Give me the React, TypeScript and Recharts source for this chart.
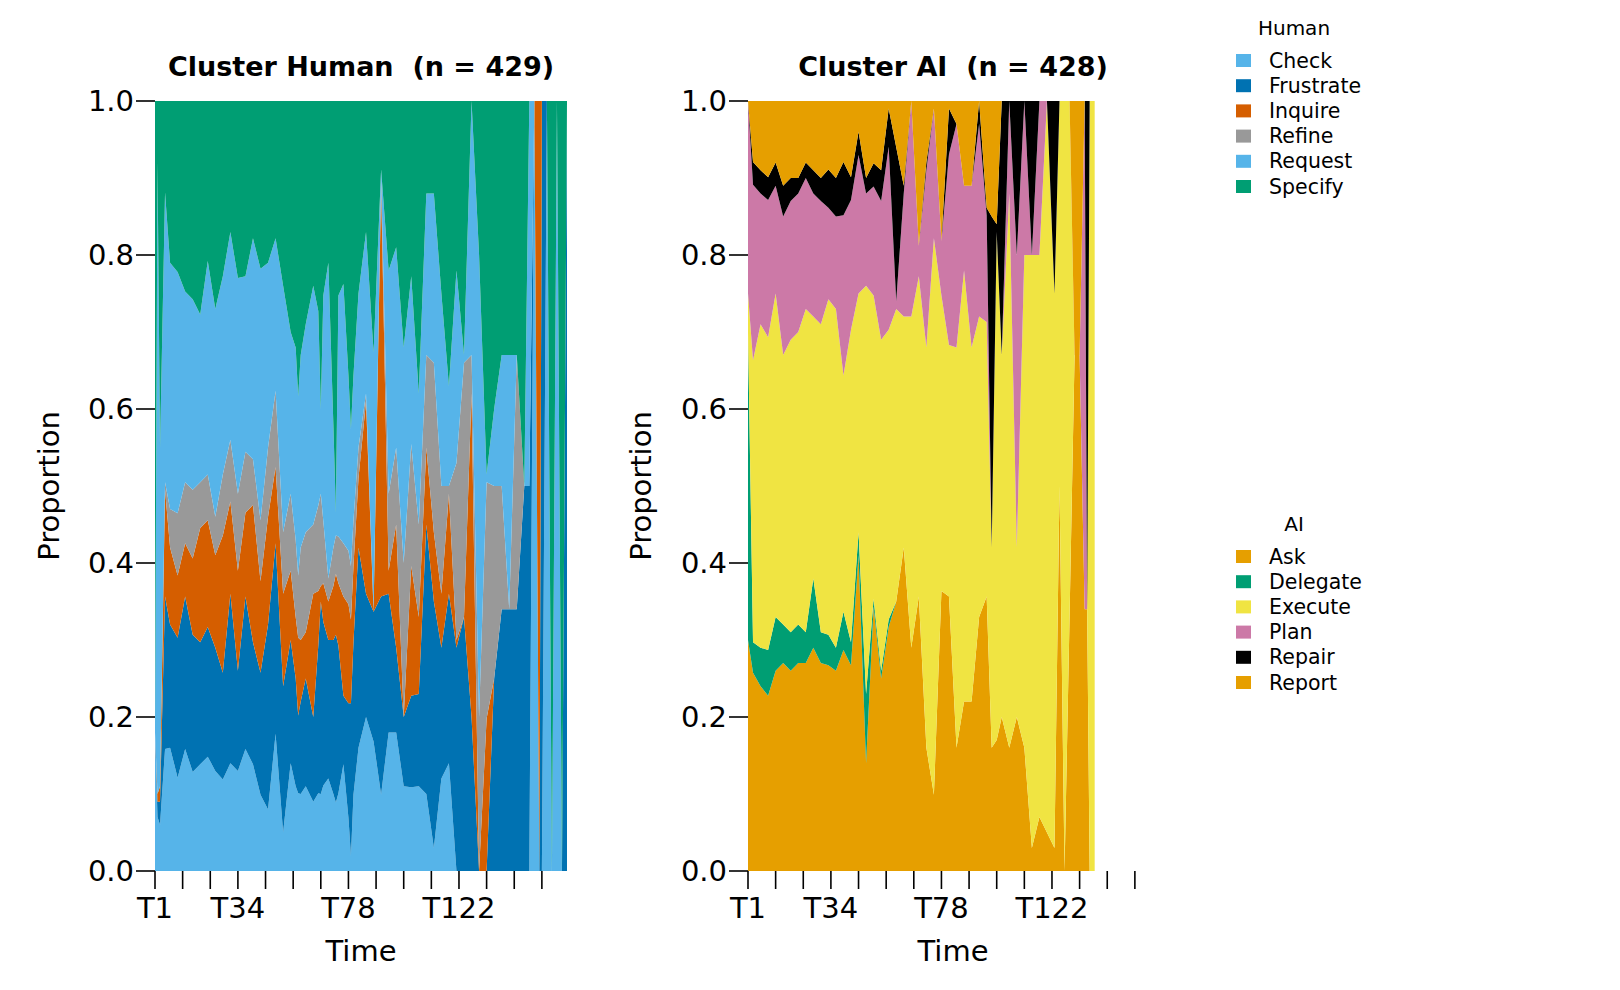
import React from "react";
import { AreaChart, Area, XAxis, YAxis } from "recharts";

// Cluster Human: proportions per time step
const humanTimes = [1, 2, 3, 5, 7, 10, 13, 16, 19, 22, 25, 28, 31, 34, 37, 40, 43, 46, 49, 52, 55, 57, 58, 59, 61, 64, 66, 67, 68, 70, 72, 73, 74, 76, 78, 79, 80, 82, 85, 88, 91, 94, 97, 100, 103, 106, 109, 112, 115, 118, 121, 124, 127, 130, 133, 136, 139, 142, 145, 148, 150, 152, 154, 155, 157, 159, 161, 163, 165];
const humanCheck = [0.18, 0.07, 0.06, 0.16, 0.16, 0.12, 0.16, 0.13, 0.14, 0.15, 0.13, 0.12, 0.14, 0.13, 0.16, 0.14, 0.1, 0.08, 0.18, 0.05, 0.14, 0.11, 0.1, 0.1, 0.11, 0.09, 0.1, 0.1, 0.11, 0.12, 0.1, 0.09, 0.1, 0.14, 0.07, 0.02, 0.1, 0.16, 0.2, 0.17, 0.1, 0.18, 0.18, 0.11, 0.11, 0.11, 0.1, 0.03, 0.12, 0.14, 0, 0, 0, 0, 0, 0, 0, 0, 0, 0, 0, 1, 0, 0, 1, 0, 0, 0, 0];
const humanFrustrate = [0, 0.02, 0.03, 0.2, 0.16, 0.18, 0.2, 0.18, 0.16, 0.17, 0.16, 0.14, 0.22, 0.13, 0.2, 0.16, 0.16, 0.24, 0.25, 0.19, 0.16, 0.14, 0.1, 0.12, 0.14, 0.11, 0.19, 0.25, 0.21, 0.18, 0.2, 0.22, 0.19, 0.09, 0.15, 0.2, 0.2, 0.26, 0.16, 0.17, 0.26, 0.18, 0.11, 0.09, 0.12, 0.12, 0.35, 0.32, 0.17, 0.22, 0.29, 0.33, 0.2, 0, 0, 0.25, 0.34, 0.34, 0.34, 0.5, 0.5, 0, 0, 1, 0, 0, 0, 0, 1];
const humanInquire = [0, 0.01, 0.02, 0.14, 0.1, 0.08, 0.07, 0.1, 0.15, 0.14, 0.12, 0.18, 0.12, 0.13, 0.11, 0.18, 0.12, 0.14, 0.1, 0.12, 0.09, 0.08, 0.1, 0.08, 0.06, 0.16, 0.07, 0.02, 0.05, 0.05, 0.07, 0.08, 0.08, 0.13, 0.13, 0.11, 0.1, 0.09, 0.25, 0, 0.54, 0.03, 0.16, 0, 0.17, 0.1, 0.1, 0.09, 0.07, 0.13, 0.01, 0, 0.42, 0, 0.2, 0, 0, 0, 0, 0, 0, 0, 1, 0, 0, 0, 0, 0, 0];
const humanRefine = [0, 0, 0, 0.01, 0.05, 0.08, 0.08, 0.09, 0.06, 0.06, 0.05, 0.08, 0.08, 0.1, 0.08, 0.06, 0.08, 0.09, 0.1, 0.08, 0.1, 0.1, 0.08, 0.12, 0.13, 0.09, 0.11, 0.12, 0.08, 0.03, 0.05, 0.05, 0.06, 0.07, 0.07, 0.07, 0.06, 0.04, 0.01, 0, 0.01, 0.1, 0.1, 0.2, 0.16, 0.12, 0.12, 0.22, 0.14, 0.01, 0.23, 0.33, 0.05, 0.2, 0.31, 0.25, 0.16, 0, 0.33, 0, 0, 0, 0, 0, 0, 0, 0, 0, 0];
const humanRequest = [0, 0.82, 0.44, 0.38, 0.32, 0.31, 0.25, 0.25, 0.22, 0.28, 0.27, 0.26, 0.27, 0.28, 0.23, 0.29, 0.33, 0.24, 0.2, 0.32, 0.21, 0.25, 0.23, 0.25, 0.27, 0.31, 0.25, 0.11, 0.29, 0.41, 0.16, 0.03, 0.31, 0.34, 0.23, 0.18, 0.19, 0.2, 0.21, 0.34, 0.01, 0.29, 0.26, 0.28, 0.22, 0.17, 0.21, 0.22, 0.25, 0.13, 0.25, 0.01, 0.33, 0.6, 0.01, 0.1, 0.17, 0.33, 0, 0, 0.5, 0, 0, 0, 0, 0, 1, 0, 0];
const humanSpecify = [0.82, 0.08, 0.45, 0.12, 0.21, 0.22, 0.25, 0.26, 0.28, 0.21, 0.27, 0.23, 0.17, 0.23, 0.23, 0.18, 0.22, 0.21, 0.18, 0.24, 0.3, 0.32, 0.38, 0.33, 0.29, 0.24, 0.27, 0.4, 0.25, 0.21, 0.42, 0.54, 0.25, 0.24, 0.36, 0.43, 0.36, 0.25, 0.17, 0.33, 0.09, 0.22, 0.19, 0.32, 0.23, 0.38, 0.12, 0.12, 0.25, 0.37, 0.22, 0.33, 0, 0.2, 0.49, 0.4, 0.33, 0.33, 0.33, 0.5, 0, 0, 0, 0, 0, 1, 0, 1, 0];

// Cluster AI: proportions per time step
const aiTimes = [1, 3, 6, 9, 12, 15, 18, 21, 24, 27, 30, 33, 36, 39, 42, 45, 48, 51, 54, 57, 60, 63, 66, 69, 72, 75, 78, 81, 84, 87, 90, 93, 96, 98, 100, 102, 105, 108, 111, 114, 117, 120, 123, 125, 127, 129, 131, 133, 135, 136, 137, 139];
const aiAsk = [0.3, 0.26, 0.24, 0.23, 0.26, 0.27, 0.26, 0.27, 0.27, 0.29, 0.27, 0.27, 0.26, 0.29, 0.27, 0.41, 0.14, 0.34, 0.25, 0.32, 0.35, 0.42, 0.29, 0.36, 0.16, 0.1, 0.36, 0.36, 0.16, 0.22, 0.22, 0.33, 0.36, 0.16, 0.17, 0.2, 0.16, 0.2, 0.16, 0.03, 0.07, 0.05, 0.03, 0.5, 0, 0.33, 0.67, 0.67, 0.34, 0.34, 0, 0];
const aiDelegate = [0.4, 0.04, 0.05, 0.06, 0.07, 0.05, 0.05, 0.05, 0.04, 0.09, 0.04, 0.04, 0.03, 0.05, 0.03, 0.03, 0.09, 0.01, 0.01, 0.01, 0, 0, 0, 0, 0, 0, 0, 0, 0, 0, 0, 0, 0, 0, 0, 0, 0, 0, 0, 0, 0, 0, 0, 0, 0, 0, 0, 0, 0, 0, 0, 0];
const aiExecute = [0.05, 0.37, 0.42, 0.41, 0.42, 0.35, 0.38, 0.38, 0.42, 0.34, 0.4, 0.44, 0.44, 0.31, 0.41, 0.31, 0.53, 0.39, 0.43, 0.38, 0.38, 0.3, 0.43, 0.42, 0.52, 0.73, 0.38, 0.33, 0.52, 0.56, 0.46, 0.39, 0.36, 0.26, 0.66, 0.47, 0.72, 0.22, 0.64, 0.77, 0.73, 0.95, 0.72, 0.5, 1, 0.67, 0, 0, 0, 0, 1, 1];
const aiPlan = [0.25, 0.23, 0.17, 0.18, 0.14, 0.18, 0.18, 0.18, 0.17, 0.16, 0.16, 0.12, 0.12, 0.21, 0.17, 0.18, 0.12, 0.14, 0.18, 0.24, 0.01, 0.16, 0.28, 0.04, 0.23, 0.17, 0.07, 0.25, 0.29, 0.11, 0.21, 0.25, 0.14, 0, 0, 0, 0.12, 0.38, 0.2, 0, 0.2, 0, 0, 0, 0, 0, 0, 0, 0.66, 0, 0, 0];
const aiRepair = [0, 0.03, 0.03, 0.03, 0.03, 0.04, 0.03, 0.02, 0.02, 0.03, 0.03, 0.05, 0.05, 0.07, 0.03, 0.03, 0.02, 0.03, 0.04, 0.05, 0.2, 0.01, 0, 0, 0.01, 0, 0, 0.06, 0, 0, 0, 0.03, 0.01, 0.43, 0.01, 0.33, 0, 0.2, 0, 0.2, 0, 0, 0.25, 0, 0, 0, 0, 0, 0, 0.66, 0, 0];
const aiReport = [0, 0.08, 0.09, 0.1, 0.08, 0.11, 0.1, 0.1, 0.08, 0.09, 0.1, 0.09, 0.1, 0.08, 0.1, 0.04, 0.1, 0.08, 0.09, 0.01, 0.06, 0.11, 0, 0.19, 0.08, 0.01, 0.18, 0.01, 0.03, 0.11, 0.11, 0, 0.14, 0.15, 0.16, 0, 0, 0, 0, 0, 0, 0, 0, 0, 0, 0, 0.33, 0.33, 0, 0, 0, 0];

const humanKeys = ["Check", "Frustrate", "Inquire", "Refine", "Request", "Specify"];
const humanColors = ["#56B4E9", "#0072B2", "#D55E00", "#999999", "#56B4E9", "#009E73"];
const aiKeys = ["Ask", "Delegate", "Execute", "Plan", "Repair", "Report"];
const aiColors = ["#E69F00", "#009E73", "#F0E442", "#CC79A7", "#000000", "#E69F00"];

const xTicks = [1, 12, 23, 34, 45, 56, 67, 78, 89, 100, 111, 122, 133, 144, 155];
const xLabels: { [k: number]: string } = { 1: "T1", 34: "T34", 78: "T78", 122: "T122" };
const yTicks = [0, 0.2, 0.4, 0.6, 0.8, 1];

const FONT = "'DejaVu Sans', Verdana, sans-serif";

function buildRows(times: number[], keys: string[], values: number[][]) {
  return times.map((t, i) => {
    const row: { [k: string]: number } = { t };
    keys.forEach((k, j) => {
      row[k] = values[j][i];
    });
    return row;
  });
}

const humanData = buildRows(humanTimes, humanKeys, [
  humanCheck,
  humanFrustrate,
  humanInquire,
  humanRefine,
  humanRequest,
  humanSpecify,
]);
const aiData = buildRows(aiTimes, aiKeys, [aiAsk, aiDelegate, aiExecute, aiPlan, aiRepair, aiReport]);

interface PanelProps {
  left: number;
  marginLeft: number;
  marginRight: number;
  data: { [k: string]: number }[];
  keys: string[];
  colors: string[];
}

function Panel({ left, marginLeft, marginRight, data, keys, colors }: PanelProps) {
  const tickStyle = { fill: "#000", fontSize: 29, fontFamily: FONT };
  const lineStyle = { stroke: "#000", strokeWidth: 1.6 };
  return (
    <div style={{ position: "absolute", left, top: 0 }}>
      <AreaChart
        width={600}
        height={990}
        data={data}
        stackOffset="expand"
        margin={{ top: 101, right: marginRight, bottom: 89, left: marginLeft }}
      >
        <XAxis
          dataKey="t"
          type="number"
          domain={[1, 165]}
          ticks={xTicks}
          interval={0}
          tickFormatter={(v: number) => xLabels[v] || ""}
          axisLine={false}
          tickLine={lineStyle}
          tickSize={18}
          tickMargin={8}
          tick={tickStyle}
          height={30}
          allowDataOverflow
        />
        <YAxis
          type="number"
          domain={[0, 1]}
          ticks={yTicks}
          interval={0}
          tickFormatter={(v: number) => v.toFixed(1)}
          axisLine={false}
          tickLine={lineStyle}
          tickSize={19}
          tickMargin={2}
          tick={tickStyle}
          width={60}
        />
        {keys.map((k, i) => (
          <Area
            key={k}
            dataKey={k}
            stackId="1"
            type="linear"
            fill={colors[i]}
            fillOpacity={1}
            stroke="none"
            isAnimationActive={false}
          />
        ))}
      </AreaChart>
    </div>
  );
}

function LegendBlock({ title, top, keys, colors }: { title: string; top: number; keys: string[]; colors: string[] }) {
  return (
    <g>
      <text x={1294} y={top} textAnchor="middle" dominantBaseline="central" fontSize={20} fontFamily={FONT}>
        {title}
      </text>
      {keys.map((k, i) => {
        const cy = top + 32.5 + i * 25.2;
        return (
          <g key={k}>
            <rect x={1236} y={cy - 6.5} width={15} height={13} fill={colors[i]} />
            <text x={1269} y={cy} dominantBaseline="central" fontSize={20.5} fontFamily={FONT}>
              {k}
            </text>
          </g>
        );
      })}
    </g>
  );
}

export default function App() {
  return (
    <div style={{ position: "absolute", left: 0, top: 0, width: 1620, height: 990, background: "#fff" }}>
      <Panel left={0} marginLeft={95} marginRight={33} data={humanData} keys={humanKeys} colors={humanColors} />
      <Panel left={600} marginLeft={88} marginRight={40} data={aiData} keys={aiKeys} colors={aiColors} />
      <svg
        width={1620}
        height={990}
        style={{ position: "absolute", left: 0, top: 0, pointerEvents: "none" }}
      >
        <text x={361} y={66} textAnchor="middle" dominantBaseline="central" fontSize={27} fontWeight="bold" fontFamily={FONT} style={{ whiteSpace: "pre" }}>
          {"Cluster Human  (n = 429)"}
        </text>
        <text x={953} y={66} textAnchor="middle" dominantBaseline="central" fontSize={27} fontWeight="bold" fontFamily={FONT} style={{ whiteSpace: "pre" }}>
          {"Cluster AI  (n = 428)"}
        </text>
        <text x={48.5} y={486} textAnchor="middle" dominantBaseline="central" fontSize={29} fontFamily={FONT} transform="rotate(-90 48.5 486)">
          Proportion
        </text>
        <text x={641} y={486} textAnchor="middle" dominantBaseline="central" fontSize={29} fontFamily={FONT} transform="rotate(-90 641 486)">
          Proportion
        </text>
        <text x={361} y={951} textAnchor="middle" dominantBaseline="central" fontSize={29} fontFamily={FONT}>
          Time
        </text>
        <text x={953} y={951} textAnchor="middle" dominantBaseline="central" fontSize={29} fontFamily={FONT}>
          Time
        </text>
        <LegendBlock title="Human" top={28} keys={humanKeys} colors={humanColors} />
        <LegendBlock title="AI" top={524} keys={aiKeys} colors={aiColors} />
      </svg>
    </div>
  );
}
